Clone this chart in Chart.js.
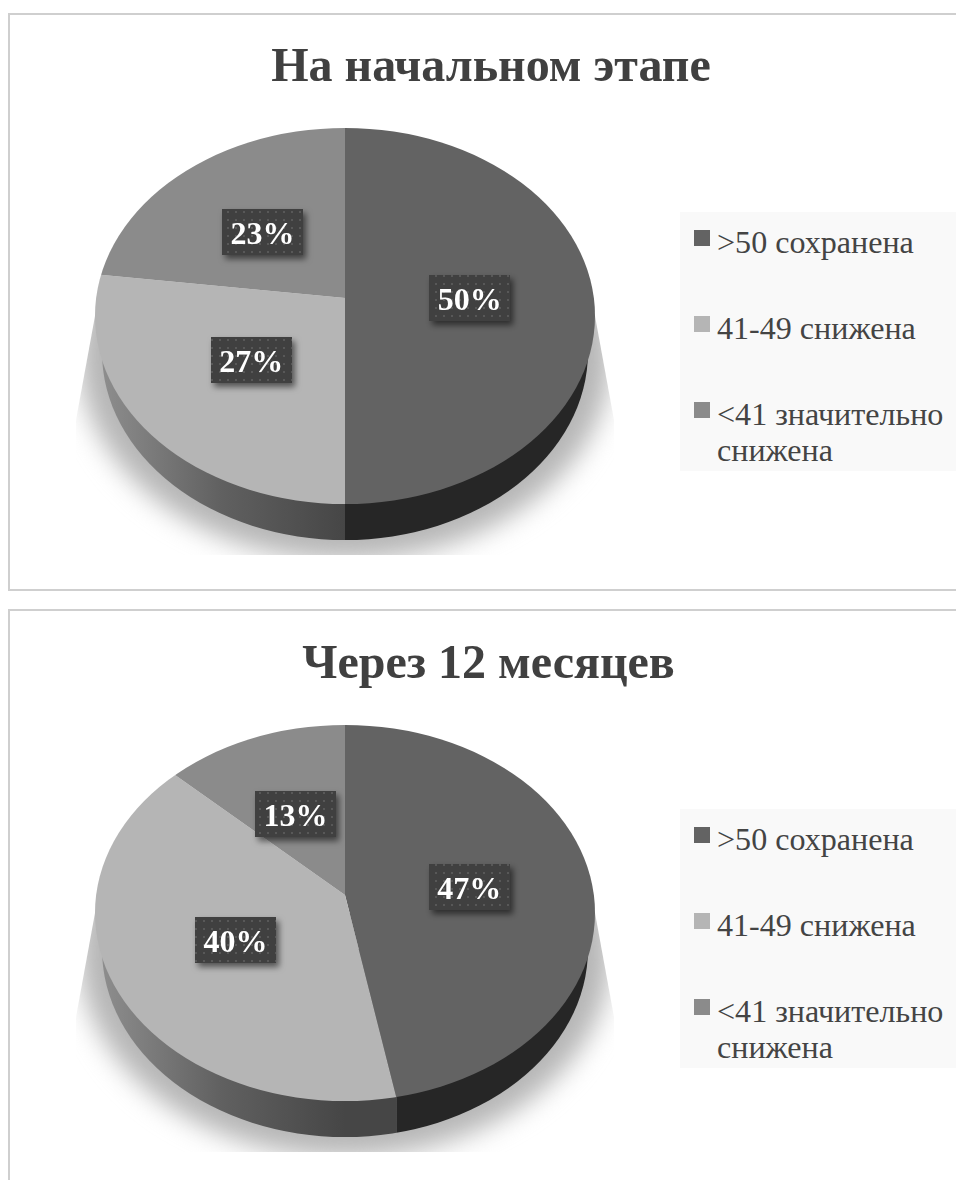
<!DOCTYPE html>
<html lang="ru">
<head>
<meta charset="utf-8">
<title>Фракция выброса</title>
<script src="https://cdn.jsdelivr.net/npm/chart.js@4"></script>
<style>
    html, body { margin: 0; height: 100%; background: #fff; overflow: hidden; }
    body { position: relative; width: 956px; height: 1180px; font-family: "Liberation Serif", serif; }
    canvas { position: absolute; left: 0; }
    .frame { position: absolute; left: 8px; width: 1100px; border: 2px solid #cfcfcf; box-sizing: border-box; }
    .legend { position: absolute; left: 680px; width: 276px; height: 259px; background: #f9f9f9; color: #444; font-size: 32.1px; line-height: 36px; }
    .legend div { position: relative; padding-left: 37px; margin-bottom: 50px; width: 232px; }
    .legend div:first-child { margin-top: 12px; }
    .legend i { position: absolute; left: 14px; top: 6px; width: 16px; height: 16px; }
</style>
</head>
<body>
<div class="frame" style="top:13px;height:578px"></div>
<div class="frame" style="top:609px;height:700px"></div>
<canvas id="chartStart" width="982" height="597" style="top:0"></canvas>
<canvas id="chartLater" width="977" height="597" style="top:597px"></canvas>
<div class="legend" id="legendStart" style="top:212px"></div>
<div class="legend" id="legendLater" style="top:809px"></div>
<script>
const categories = ['>50 сохранена', '41-49 снижена', '<41 значительно снижена'];
const startTitle = 'На начальном этапе';
const laterTitle = 'Через 12 месяцев';
const startValues = [50, 27, 23];
const laterValues = [47, 40, 13];
const sliceColors = ['#636363', '#b5b5b5', '#8b8b8b'];

// the "3D" look: ellipse for the top face, a narrower one below for the wall
const pieX = 345, apexY = 298, faceY = 316, faceRx = 250, faceRy = 188;
const wallY = 352, wallRx = 243, wallRy = 188;
const squash = faceRy / faceRx;
const overdraw = 1.2; // arcs are drawn bigger and clipped to the face ellipse

// where a ray from the apex at this angle leaves the top face
function rayHitX(a) {
    const dx = Math.cos(a), dy = squash * Math.sin(a), oy = apexY - faceY;
    const A = dx * dx / (faceRx * faceRx) + dy * dy / (faceRy * faceRy);
    const B = 2 * oy * dy / (faceRy * faceRy);
    const C = oy * oy / (faceRy * faceRy) - 1;
    const t = (-B + Math.sqrt(B * B - 4 * A * C)) / (2 * A);
    return pieX + t * dx;
}

const pie3d = {
    id: 'pie3d',
    afterLayout(chart) {
        // title goes over the whole frame, not just the padded pie area
        chart.titleBlock.left = 0;
        chart.titleBlock.right = chart.width;
    },
    beforeDatasetsDraw(chart) {
        const ctx = chart.ctx;
        const arcs = chart.getDatasetMeta(0).data;

        // soft shadow under the pie
        ctx.save();
        ctx.beginPath();
        ctx.moveTo(95, faceY);
        ctx.lineTo(76, 420);
        ctx.lineTo(76, 555);
        ctx.lineTo(614, 555);
        ctx.lineTo(614, 420);
        ctx.lineTo(595, faceY);
        ctx.closePath();
        ctx.clip();
        ctx.filter = 'blur(13px)';
        ctx.fillStyle = '#b6b6b6';
        ctx.beginPath();
        ctx.ellipse(pieX, wallY + 4, 266, 204, 0, 0, Math.PI * 2);
        ctx.fill();
        ctx.restore();

        // side wall, one strip per visible slice
        ctx.save();
        ctx.beginPath();
        ctx.ellipse(pieX, wallY, wallRx, wallRy, 0, 0, Math.PI * 2);
        ctx.clip();
        const lit = ctx.createLinearGradient(100, 0, 345, 0);
        lit.addColorStop(0, '#8e8e8e');
        lit.addColorStop(0.5, '#606060');
        lit.addColorStop(1, '#464646');
        const wallFill = ['#262626', lit, lit];
        arcs.forEach((arc, i) => {
            const a0 = Math.max(arc.startAngle, 0);
            const a1 = Math.min(arc.endAngle, Math.PI);
            if (a1 <= a0) return;
            const x0 = rayHitX(a1), x1 = rayHitX(a0);
            ctx.fillStyle = wallFill[i];
            ctx.fillRect(x0, wallY, x1 - x0, wallRy + 2);
        });
        ctx.restore();

        // the library draws the arcs inside this transform, undone in afterDatasetsDraw
        const c = arcs[0];
        ctx.save();
        ctx.beginPath();
        ctx.ellipse(pieX, faceY, faceRx, faceRy, 0, 0, Math.PI * 2);
        ctx.clip();
        ctx.translate(c.x, apexY);
        ctx.scale(overdraw, overdraw * squash);
        ctx.translate(-c.x, -c.y);
    },
    afterDatasetsDraw(chart) {
        const ctx = chart.ctx;
        ctx.restore();

        const values = chart.data.datasets[0].data;
        const tile = document.createElement('canvas');
        tile.width = tile.height = 8;
        const t = tile.getContext('2d');
        t.fillStyle = '#404040';
        t.fillRect(0, 0, 8, 8);
        t.fillStyle = '#585858';
        t.fillRect(3, 3, 2, 2);
        const dots = ctx.createPattern(tile, 'repeat');

        chart.getDatasetMeta(0).data.forEach((arc, i) => {
            const p = arc.getCenterPoint();
            // labels above the apex sit a bit closer to it, the face is foreshortened there
            const dy = p.y - arc.y;
            const x = p.x, y = apexY + dy * (dy < 0 ? 0.71 : squash);
            ctx.save();
            ctx.shadowColor = 'rgba(0,0,0,0.55)';
            ctx.shadowBlur = 6;
            ctx.shadowOffsetX = 3;
            ctx.shadowOffsetY = 4;
            ctx.fillStyle = dots;
            ctx.fillRect(Math.round(x - 40.5), Math.round(y - 23), 81, 46);
            ctx.restore();
            ctx.fillStyle = '#fff';
            ctx.font = 'bold 32px "Liberation Serif"';
            ctx.textAlign = 'center';
            ctx.textBaseline = 'middle';
            ctx.fillText(values[i] + '%', x, y + 4);
        });
    }
};

function makePie(id, title, values) {
    const canvas = document.getElementById(id);
    return new Chart(canvas, {
        type: 'pie',
        data: {
            labels: categories,
            datasets: [{ data: values, backgroundColor: sliceColors, borderWidth: 0, clip: false }]
        },
        options: {
            responsive: false,
            animation: false,
            layout: { padding: { left: 95, right: canvas.width - 595 } },
            plugins: {
                legend: { display: false },
                tooltip: { enabled: false },
                title: {
                    display: true,
                    text: title,
                    color: '#404040',
                    font: { family: '"Liberation Serif"', size: 48, weight: 'bold' },
                    padding: { top: 40, bottom: 0 }
                }
            }
        },
        plugins: [pie3d]
    });
}

function makeLegend(id) {
    const box = document.getElementById(id);
    categories.forEach((name, i) => {
        const row = document.createElement('div');
        const mark = document.createElement('i');
        mark.style.background = sliceColors[i];
        row.appendChild(mark);
        row.appendChild(document.createTextNode(name));
        box.appendChild(row);
    });
}

makePie('chartStart', startTitle, startValues);
makePie('chartLater', laterTitle, laterValues);
makeLegend('legendStart');
makeLegend('legendLater');
</script>
</body>
</html>
